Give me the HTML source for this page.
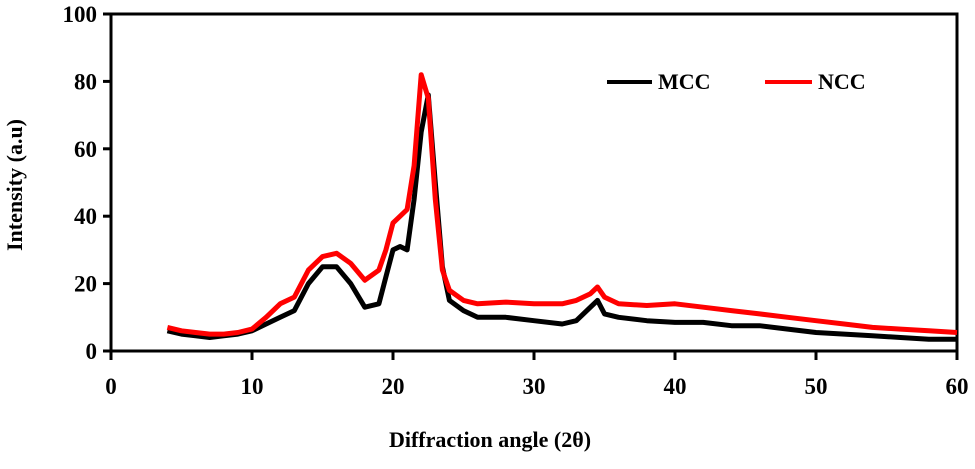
<!DOCTYPE html>
<html><head><meta charset="utf-8"><style>
body{margin:0;background:#fff;}
text{font-family:"Liberation Serif",serif;font-weight:bold;fill:#000;}
</style></head><body>
<svg id="chart" width="975" height="464">
<g id="frame"></g>
<g id="series"></g>
<g id="legend"></g>
</svg>
<script>
const xs=[4,5,6,7,8,9,10,11,12,13,14,15,16,17,18,19,19.5,20,20.5,21,21.5,22,22.5,23,23.5,24,25,26,28,30,32,33,34,34.5,35,36,38,40,42,44,46,48,50,52,54,56,58,60];
const mcc=[6,5,4.5,4,4.5,5,6,8,10,12,20,25,25,20,13,14,22,30,31,30,45,65,76,50,25,15,12,10,10,9,8,9,13,15,11,10,9,8.5,8.5,7.5,7.5,6.5,5.5,5,4.5,4,3.5,3.5];
const ncc=[7,6,5.5,5,5,5.5,6.5,10,14,16,24,28,29,26,21,24,30,38,40,42,55,82,75,45,24,18,15,14,14.5,14,14,15,17,19,16,14,13.5,14,13,12,11,10,9,8,7,6.5,6,5.5];
const xTicks=[0,10,20,30,40,50,60];
const yTicks=[0,20,40,60,80,100];
const X=v=>111+v*(957-111)/60;
const Y=v=>351-v*(351-14)/100;
const NS="http://www.w3.org/2000/svg";
function mk(tag,attrs,parent,txt){const e=document.createElementNS(NS,tag);for(const k in attrs)e.setAttribute(k,attrs[k]);if(txt!==undefined)e.textContent=txt;parent.appendChild(e);return e;}
const fr=document.getElementById('frame');
let r=mk('rect',{x:X(0),y:Y(100),width:X(60)-X(0),height:Y(0)-Y(100),fill:'none',stroke:'#000','stroke-width':3},fr);


xTicks.forEach(t=>{
 let l=mk('line',{x1:X(t),x2:X(t),y1:Y(0),y2:Y(0)+9,stroke:'#000','stroke-width':3},fr);
 
 
 let tx=mk('text',{x:X(t),y:394,'text-anchor':'middle','font-size':23},fr,String(t));
 
 
});
yTicks.forEach(t=>{
 let l=mk('line',{x1:X(0)-8,x2:X(0),y1:Y(t),y2:Y(t),stroke:'#000','stroke-width':3},fr);
 
 
 let tx=mk('text',{x:97,y:Y(t)+8,'text-anchor':'end','font-size':23},fr,String(t));
 
 
});
let xt=mk('text',{x:490,y:447,'text-anchor':'middle','font-size':22},fr,'Diffraction angle (2θ)');


let yt=mk('text',{x:0,y:0,'text-anchor':'middle','font-size':22,transform:'translate(22,185) rotate(-90)'},fr,'Intensity (a.u)');


const sg=document.getElementById('series');
function pts(a){return xs.map((x,i)=>X(x).toFixed(1)+','+Y(a[i]).toFixed(1)).join(' ');}
let p1=mk('polyline',{points:pts(mcc),fill:'none',stroke:'#000','stroke-width':5,'stroke-linejoin':'round'},sg);


let p2=mk('polyline',{points:pts(ncc),fill:'none',stroke:'#f00','stroke-width':5,'stroke-linejoin':'round'},sg);


const lg=document.getElementById('legend');
let l1=mk('line',{x1:607,x2:652,y1:82,y2:82,stroke:'#000','stroke-width':4},lg);


let t1=mk('text',{x:658,y:89,'font-size':22},lg,'MCC');


let l2=mk('line',{x1:765,x2:812,y1:82,y2:82,stroke:'#f00','stroke-width':4},lg);


let t2=mk('text',{x:818,y:89,'font-size':22},lg,'NCC');


</script>
</body></html>
